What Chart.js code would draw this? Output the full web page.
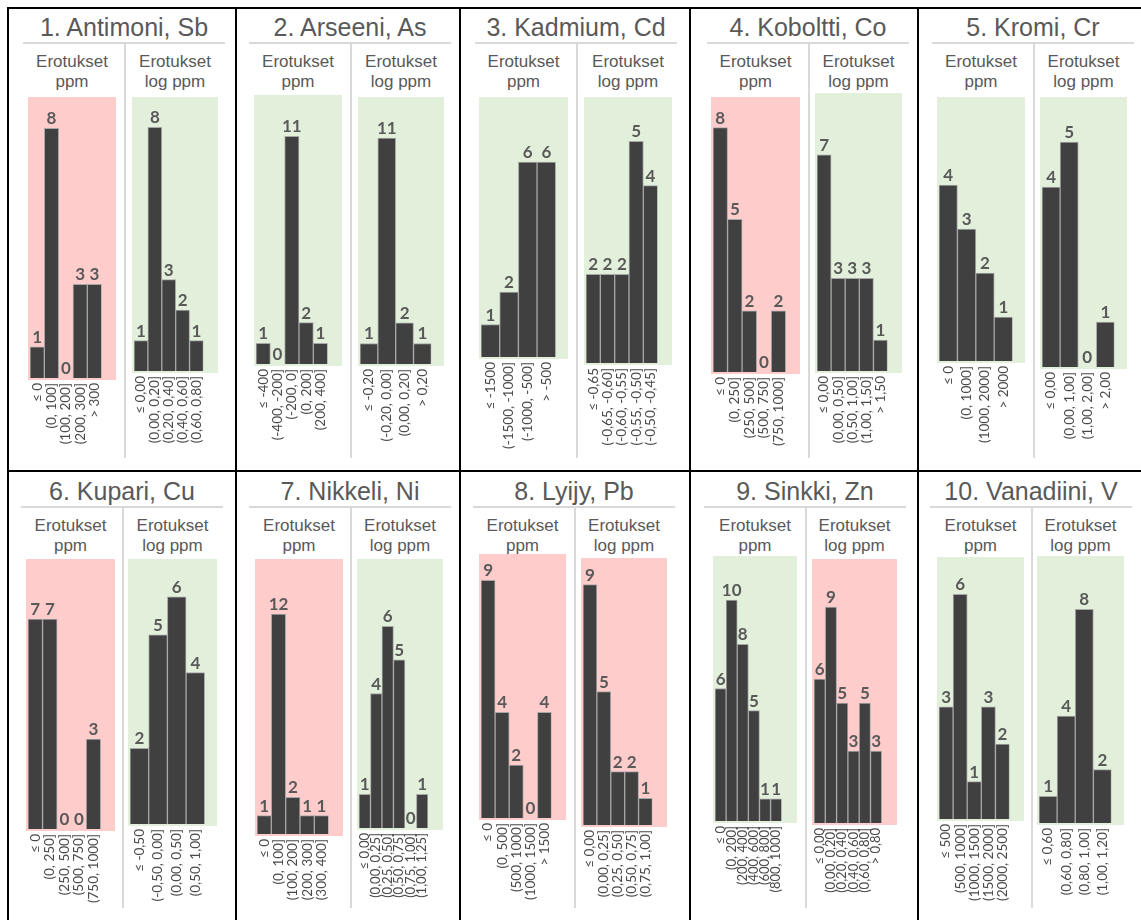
<!DOCTYPE html>
<html><head><meta charset="utf-8">
<script src="https://cdn.jsdelivr.net/npm/chart.js@4/dist/chart.umd.min.js"></script>
<style>
body{margin:0;background:#fff;width:1141px;height:920px;overflow:hidden;position:relative;font-family:'Liberation Sans',Arial,sans-serif}
.ln{position:absolute;background:#000}
.gl{position:absolute;background:#d9d9d9}
.title{position:absolute;width:240px;text-align:center;color:#595959;font-size:25px;line-height:28px;white-space:nowrap}
.sub{position:absolute;width:120px;text-align:center;color:#595959;font-size:17px;line-height:20px;white-space:nowrap}
canvas{position:absolute}
</style></head><body>
<script>
// ---------- DATA ----------
const titles = ["1. Antimoni, Sb","2. Arseeni, As","3. Kadmium, Cd","4. Koboltti, Co","5. Kromi, Cr",
                "6. Kupari, Cu","7. Nikkeli, Ni","8. Lyijy, Pb","9. Sinkki, Zn","10. Vanadiini, V"];

const sbPpmLabels = ["≤ 0","(0, 100]","(100, 200]","(200, 300]","> 300"];
const sbPpmCounts = [1,8,0,3,3];
const sbLogLabels = ["≤ 0,00","(0,00, 0,20]","(0,20, 0,40]","(0,40, 0,60]","(0,60, 0,80]"];
const sbLogCounts = [1,8,3,2,1];

const asPpmLabels = ["≤ -400","(-400, -200]","(-200, 0]","(0, 200]","(200, 400]"];
const asPpmCounts = [1,0,11,2,1];
const asLogLabels = ["≤ -0,20","(-0,20, 0,00]","(0,00, 0,20]","> 0,20"];
const asLogCounts = [1,11,2,1];

const cdPpmLabels = ["≤ -1500","(-1500, -1000]","(-1000, -500]","> -500"];
const cdPpmCounts = [1,2,6,6];
const cdLogLabels = ["≤ -0,65","(-0,65, -0,60]","(-0,60, -0,55]","(-0,55, -0,50]","(-0,50, -0,45]"];
const cdLogCounts = [2,2,2,5,4];

const coPpmLabels = ["≤ 0","(0, 250]","(250, 500]","(500, 750]","(750, 1000]"];
const coPpmCounts = [8,5,2,0,2];
const coLogLabels = ["≤ 0,00","(0,00, 0,50]","(0,50, 1,00]","(1,00, 1,50]","> 1,50"];
const coLogCounts = [7,3,3,3,1];

const crPpmLabels = ["≤ 0","(0, 1000]","(1000, 2000]","> 2000"];
const crPpmCounts = [4,3,2,1];
const crLogLabels = ["≤ 0,00","(0,00, 1,00]","(1,00, 2,00]","> 2,00"];
const crLogCounts = [4,5,0,1];

const cuPpmLabels = ["≤ 0","(0, 250]","(250, 500]","(500, 750]","(750, 1000]"];
const cuPpmCounts = [7,7,0,0,3];
const cuLogLabels = ["≤ -0,50","(-0,50, 0,00]","(0,00, 0,50]","(0,50, 1,00]"];
const cuLogCounts = [2,5,6,4];

const niPpmLabels = ["≤ 0","(0, 100]","(100, 200]","(200, 300]","(300, 400]"];
const niPpmCounts = [1,12,2,1,1];
const niLogLabels = ["≤ 0,00","(0,00, 0,25]","(0,25, 0,50]","(0,50, 0,75]","(0,75, 1,00]","(1,00, 1,25]"];
const niLogCounts = [1,4,6,5,0,1];

const pbPpmLabels = ["≤ 0","(0, 500]","(500, 1000]","(1000, 1500]","> 1500"];
const pbPpmCounts = [9,4,2,0,4];
const pbLogLabels = ["≤ 0,00","(0,00, 0,25]","(0,25, 0,50]","(0,50, 0,75]","(0,75, 1,00]"];
const pbLogCounts = [9,5,2,2,1];

const znPpmLabels = ["≤ 0","(0, 200]","(200, 400]","(400, 600]","(600, 800]","(800, 1000]"];
const znPpmCounts = [6,10,8,5,1,1];
const znLogLabels = ["≤ 0,00","(0,00, 0,20]","(0,20, 0,40]","(0,40, 0,60]","(0,60, 0,80]","> 0,80"];
const znLogCounts = [6,9,5,3,5,3];

const vPpmLabels = ["≤ 500","(500, 1000]","(1000, 1500]","(1500, 2000]","(2000, 2500]"];
const vPpmCounts = [3,6,1,3,2];
const vLogLabels = ["≤ 0,60","(0,60, 0,80]","(0,80, 1,00]","(1,00, 1,20]"];
const vLogCounts = [1,4,8,2];

// value-axis maxima, in chart order (ppm, log ppm) per element
const axisMax = [9,9, 13,13, 8,6, 9,9, 6,6, 9,7, 15,8, 10,10, 12,11, 7,10];
// background verdict: 'r' = red, 'g' = green
const verdict = ['r','g', 'g','g', 'g','g', 'r','g', 'g','g', 'r','g', 'r','g', 'r','r', 'g','r', 'g','g'];

const subSets = [
  [sbPpmLabels,sbPpmCounts],[sbLogLabels,sbLogCounts],
  [asPpmLabels,asPpmCounts],[asLogLabels,asLogCounts],
  [cdPpmLabels,cdPpmCounts],[cdLogLabels,cdLogCounts],
  [coPpmLabels,coPpmCounts],[coLogLabels,coLogCounts],
  [crPpmLabels,crPpmCounts],[crLogLabels,crLogCounts],
  [cuPpmLabels,cuPpmCounts],[cuLogLabels,cuLogCounts],
  [niPpmLabels,niPpmCounts],[niLogLabels,niLogCounts],
  [pbPpmLabels,pbPpmCounts],[pbLogLabels,pbLogCounts],
  [znPpmLabels,znPpmCounts],[znLogLabels,znLogCounts],
  [vPpmLabels,vPpmCounts],[vLogLabels,vLogCounts]
];

// ---------- LAYOUT ----------
// plot rectangles: [left, right, top, baseline]
const rects = [
  [28,116,97,378],[132,218,97,371],
  [254,342,95,364],[358,444,97,364],
  [479,568,97,357],[584,672,97,363],
  [711,800,97,372],[815,902,93,371],
  [937,1025,97,361],[1040,1127,97,367],
  [26,115,559,829],[128,217,559,824],
  [255,343,559,834],[357,443,559,828],
  [479,566,554,818],[581,667,558,825],
  [713,797,556,821],[812,897,559,823],
  [937,1024,557,819],[1037,1124,556,823]
];
const BG = {r:'#ffcccc', g:'#e2efda'};

function el(cls, css, txt){
  const d=document.createElement('div'); d.className=cls; Object.assign(d.style,css);
  if(txt!==undefined) d.innerHTML=txt; document.body.appendChild(d); return d;
}

// table grid lines
el('ln',{left:'7px',top:'7px',width:'1140px',height:'2px'});
el('ln',{left:'7px',top:'470px',width:'1140px',height:'2px'});
[7,235,459,689,917].forEach(x=>el('ln',{left:x+'px',top:'7px',width:'2px',height:'913px'}));

// titles, separators, subtitles
for(let p=0;p<10;p++){
  const L=rects[2*p], R=rects[2*p+1];
  const row = p<5?0:1;
  const sep = Math.round((L[1]+R[0])/2);
  const y0 = row===0?0:464;
  el('title',{left:(sep-120)+'px',top:(y0+13)+'px'},titles[p]);
  el('gl',{left:(sep-101)+'px',top:(y0+42)+'px',width:'202px',height:'2px'});
  el('gl',{left:sep+'px',top:(y0+44)+'px',width:'2px',height:(row===0?414:400)+'px'});
  el('sub',{left:((L[0]+L[1])/2-60)+'px',top:(y0+52)+'px'},'Erotukset<br>ppm');
  el('sub',{left:((R[0]+R[1])/2-60)+'px',top:(y0+52)+'px'},'Erotukset<br>log ppm');
}

// ---------- CHARTS ----------
const bgPlugin = {
  id:'bgfill',
  beforeDraw(chart, args, opts){
    const {ctx, chartArea:a} = chart;
    ctx.save(); ctx.fillStyle = opts.color;
    ctx.fillRect(0, a.top, chart.width, a.bottom - a.top + 2);
    ctx.restore();
  }
};
const valPlugin = {
  id:'vals',
  afterDatasetsDraw(chart){
    const ctx = chart.ctx, meta = chart.getDatasetMeta(0), d = chart.data.datasets[0].data;
    ctx.save();
    ctx.font = 'bold 17px Lato, "Open Sans", sans-serif';
    ctx.fillStyle = '#595959'; ctx.textAlign='center'; ctx.textBaseline='alphabetic';
    meta.data.forEach((bar,i)=>ctx.fillText(String(d[i]), bar.x, bar.y - 4));
    ctx.restore();
  }
};

const LABEL_AREA = 98;
subSets.forEach((s,i)=>{
  const r = rects[i];
  const w = r[1]-r[0], h = (r[3]-r[2]) + LABEL_AREA;
  const c = document.createElement('canvas');
  c.width = w; c.height = h;
  c.style.left = r[0]+'px'; c.style.top = r[2]+'px';
  c.style.width = w+'px'; c.style.height = h+'px';
  document.body.appendChild(c);
  const nb = s[0].length;
  new Chart(c, {
    type:'bar',
    data:{labels:s[0], datasets:[{data:s[1], backgroundColor:'#404040',
      borderColor:'#a6a6a6', borderWidth:1, borderSkipped:'bottom',
      barPercentage:1, categoryPercentage:1}]},
    options:{
      responsive:false, animation:false, devicePixelRatio:1,
      layout:{padding:{left:2,right:3,top:0,bottom:0}},
      plugins:{legend:{display:false}, tooltip:{enabled:false}, bgfill:{color:BG[verdict[i]]}},
      scales:{
        x:{grid:{display:false, drawTicks:false}, border:{display:false},
           ticks:{autoSkip:false, minRotation:90, maxRotation:90, padding:5, color:'#4a4a4a',
                  font:{family:'Lato, "DejaVu Sans", sans-serif', size:(nb>5?13:13.5)}},
           afterFit(sc){ sc.height = LABEL_AREA; }},
        y:{display:false, min:0, max:axisMax[i]}
      }
    },
    plugins:[bgPlugin, valPlugin]
  });
});
</script>
</body></html>
